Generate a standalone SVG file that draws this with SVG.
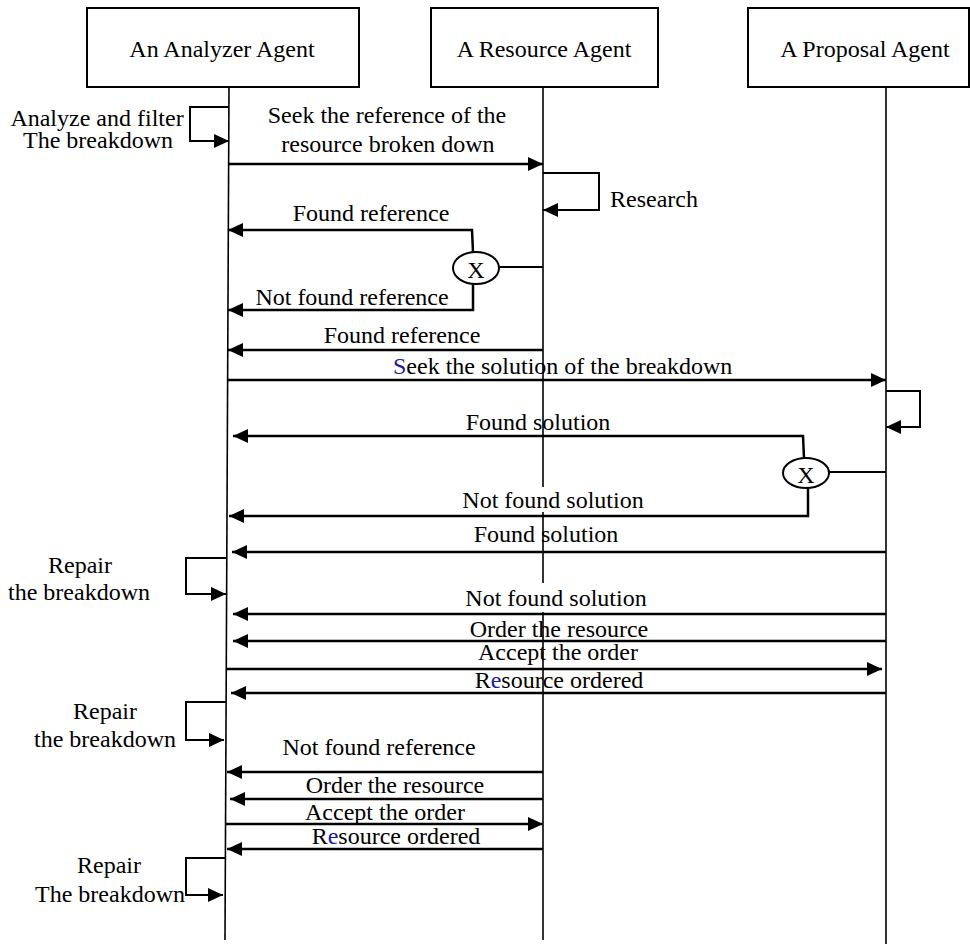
<svg xmlns="http://www.w3.org/2000/svg" width="970" height="944" viewBox="0 0 970 944">
  <style>
    .box { fill: #ffffff; stroke: #000000; stroke-width: 2; }
    .life { stroke: #000000; stroke-width: 1.6; fill: none; }
    .msg { stroke: #000000; stroke-width: 2.5; fill: none; marker-end: url(#arrow); }
    .wire { stroke: #000000; stroke-width: 2.2; fill: none; }
    .loop { stroke: #000000; stroke-width: 2; fill: none; marker-end: url(#arrow); }
    .dec { fill: #ffffff; stroke: #000000; stroke-width: 2; }
    text { font-family: "Liberation Serif", "Times New Roman", serif; font-size: 24px; fill: #000000; }
    .c { text-anchor: middle; }
    .blue { fill: #1c1c9c; }
  </style>
  <defs>
    <marker id="arrow" markerUnits="userSpaceOnUse" markerWidth="15" markerHeight="14" refX="15" refY="7" orient="auto">
      <path d="M0,0 L15,7 L0,14 Z" fill="#000000"/>
    </marker>
  </defs>

  <!-- Agents with their lifelines -->
  <g id="analyzer-agent">
    <rect class="box" x="87" y="8" width="272" height="79"/>
    <text class="c" x="222" y="57">An Analyzer Agent</text>
    <line class="life" x1="229" y1="87" x2="225" y2="940"/>
  </g>
  <g id="resource-agent">
    <rect class="box" x="431" y="8" width="227" height="79"/>
    <text class="c" x="544" y="57">A Resource Agent</text>
    <line class="life" x1="543" y1="87" x2="543" y2="487"/>
    <line class="life" x1="543" y1="512" x2="543" y2="583"/>
    <line class="life" x1="543" y1="612" x2="543" y2="940"/>
  </g>
  <g id="proposal-agent">
    <rect class="box" x="748" y="8" width="221" height="79"/>
    <text class="c" x="865" y="57">A Proposal Agent</text>
    <line class="life" x1="886" y1="87" x2="886" y2="944"/>
  </g>

  <!-- Alternative branch points -->
  <g id="decision-reference">
    <ellipse class="dec" cx="476" cy="268" rx="23" ry="16"/>
    <text class="c" x="476" y="278">X</text>
  </g>
  <g id="decision-solution">
    <ellipse class="dec" cx="806" cy="473" rx="23" ry="15"/>
    <text class="c" x="806" y="483">X</text>
  </g>

  <!-- Messages and self calls -->
  <g id="connectors">
    <!-- analyze and filter -->
    <polyline class="loop" points="229,107 190,107 190,141 229,141"/>
    <line class="msg" x1="229" y1="164" x2="543" y2="164"/>
    <!-- research -->
    <polyline class="loop" points="543,173 599,173 599,210 543,210"/>
    <!-- reference branch -->
    <line class="wire" x1="499" y1="267" x2="543" y2="267"/>
    <polyline class="msg" points="473,252 472,230 228,230"/>
    <polyline class="msg" points="473,284 473,310 228,310"/>
    <line class="msg" x1="543" y1="350" x2="228" y2="350"/>
    <!-- solution request -->
    <line class="msg" x1="228" y1="380" x2="886" y2="380"/>
    <polyline class="loop" points="886,391 920,391 920,427 886,427"/>
    <!-- solution branch -->
    <line class="wire" x1="829" y1="472" x2="886" y2="472"/>
    <polyline class="msg" points="804,458 803,436 233,436"/>
    <polyline class="msg" points="808,488 808,516 229,516"/>
    <line class="msg" x1="886" y1="552" x2="232" y2="552"/>
    <!-- repair 1 -->
    <polyline class="loop" points="227,558 186,558 186,594 226,594"/>
    <line class="msg" x1="886" y1="614" x2="233" y2="614"/>
    <line class="msg" x1="886" y1="641" x2="233" y2="641"/>
    <line class="msg" x1="227" y1="669" x2="882" y2="669"/>
    <line class="msg" x1="886" y1="693" x2="231" y2="693"/>
    <!-- repair 2 -->
    <polyline class="loop" points="226,702 186,702 186,740 224,740"/>
    <line class="msg" x1="543" y1="772" x2="227" y2="772"/>
    <line class="msg" x1="543" y1="799" x2="230" y2="799"/>
    <line class="msg" x1="226" y1="824" x2="543" y2="824"/>
    <line class="msg" x1="543" y1="849" x2="227" y2="849"/>
    <!-- repair 3 -->
    <polyline class="loop" points="225,858 186,858 186,895 223,895"/>
  </g>

  <!-- Labels -->
  <g id="labels">
    <text class="c" x="97" y="126">Analyze and filter</text>
    <text class="c" x="98" y="148">The breakdown</text>
    <text class="c" x="387" y="123">Seek the reference of the</text>
    <text class="c" x="388" y="152">resource broken down</text>
    <text x="610" y="207">Research</text>
    <text class="c" x="371" y="221">Found reference</text>
    <text class="c" x="352" y="305">Not found reference</text>
    <text class="c" x="402" y="343">Found reference</text>
    <text x="393" y="374"><tspan class="blue">S</tspan>eek the solution of the breakdown</text>
    <text class="c" x="538" y="430">Found solution</text>
    <text class="c" x="553" y="508">Not found solution</text>
    <text class="c" x="546" y="542">Found solution</text>
    <text class="c" x="80" y="573">Repair</text>
    <text class="c" x="79" y="600">the breakdown</text>
    <text class="c" x="556" y="606">Not found solution</text>
    <text class="c" x="559" y="637">Order the resource</text>
    <text class="c" x="558" y="660">Accept the order</text>
    <text class="c" x="559" y="688">R<tspan class="blue">e</tspan>source ordered</text>
    <text class="c" x="105" y="719">Repair</text>
    <text class="c" x="105" y="747">the breakdown</text>
    <text class="c" x="379" y="755">Not found reference</text>
    <text class="c" x="395" y="793">Order the resource</text>
    <text class="c" x="385" y="820">Accept the order</text>
    <text class="c" x="396" y="844">R<tspan class="blue">e</tspan>source ordered</text>
    <text class="c" x="109" y="873">Repair</text>
    <text class="c" x="110" y="902">The breakdown</text>
  </g>
</svg>
